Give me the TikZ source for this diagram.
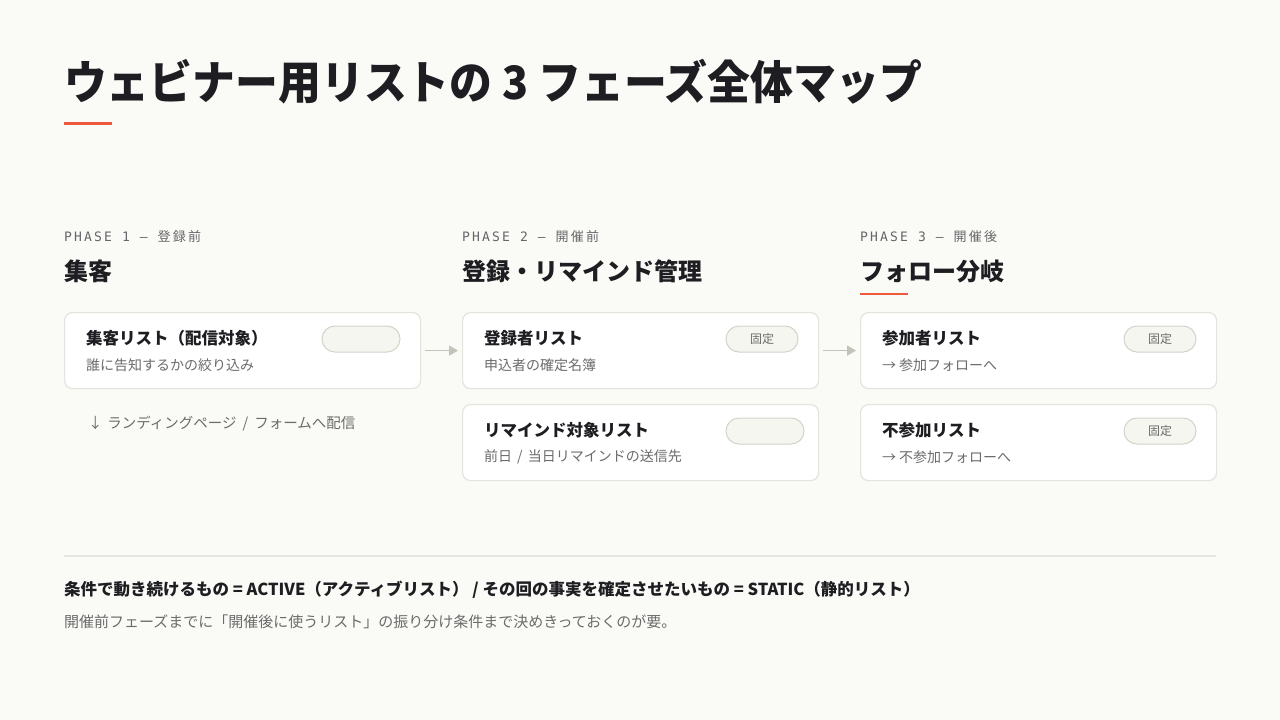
\documentclass[tikz,border=0pt]{standalone}
\usepackage{fontspec}
\usetikzlibrary{arrows.meta}
\setmainfont{Noto Sans CJK JP}
\newfontfamily\titlefont[UprightFont=* Black]{Noto Sans CJK JP}
\newfontfamily\phmono[LetterSpace=17]{DejaVu Sans Mono}
\newfontfamily\phcjk[LetterSpace=17]{Noto Sans CJK JP}
\definecolor{bg}{HTML}{FAFAF6}
\definecolor{ink}{HTML}{1D1D22}
\definecolor{subgray}{HTML}{6B6B6B}
\definecolor{phgray}{HTML}{66666A}
\definecolor{cardline}{HTML}{E4E4DE}
\definecolor{pillfill}{HTML}{F6F6F0}
\definecolor{pillline}{HTML}{D3D3CA}
\definecolor{accent}{HTML}{F05A3C}
\definecolor{arrowc}{HTML}{C3C3BA}
\definecolor{sepc}{HTML}{E5E5DF}
\begin{document}
\begin{tikzpicture}[x=1pt,y=-1pt,
  txt/.style={anchor=west,inner sep=0pt,outer sep=0pt},
  phaselabel/.style={txt,text=phgray,font=\fontsize{13}{13}\selectfont},
  phasehead/.style={txt,text=ink,font=\fontsize{24}{24}\selectfont\bfseries},
  card/.style={draw=cardline,line width=1.2pt,fill=white,rounded corners=8pt,
    minimum width=356pt,minimum height=76pt,inner sep=0pt,anchor=north west},
  cardtitle/.style={txt,text=ink,font=\fontsize{16.5}{16.5}\selectfont\bfseries},
  cardsub/.style={txt,text=subgray,font=\fontsize{14}{14}\selectfont},
  pill/.style={draw=pillline,line width=1pt,fill=pillfill,rounded corners=13pt,
    minimum height=26pt,inner sep=0pt,text=subgray,font=\fontsize{12}{12}\selectfont},
  flow/.style={draw=arrowc,line width=1.6pt,-{Triangle[length=9pt,width=10pt]},
    shorten <=4pt,shorten >=4pt},
  uline/.style={fill=accent,draw=none}
]
\useasboundingbox (0,0) rectangle (1280,720);
\fill[bg] (0,0) rectangle (1280,720);

% title
\node[txt,text=ink] (title) at (64,82)
  {\scalebox{0.932}[1]{\titlefont\fontsize{46}{46}\selectfont ウェビナー用リストの 3 フェーズ全体マップ}};
\fill[uline] (64,121.5) rectangle (112,124.5);

% phase labels
\node[phaselabel] (p1l) at (64,237) {\phmono PHASE 1 — \phcjk 登録前};
\node[phaselabel] (p2l) at (462,237) {\phmono PHASE 2 — \phcjk 開催前};
\node[phaselabel] (p3l) at (860,237) {\phmono PHASE 3 — \phcjk 開催後};

\node[phasehead] (p1h) at (64,271) {集客};
\node[phasehead] (p2h) at (462,271) {登録・リマインド管理};
\node[phasehead] (p3h) at (860,271) {フォロー分岐};
\fill[uline] (860,293) rectangle (908,295);

% cards
\node[card] (c1) at (64,312) {};
\node[card] (c2) at (462,312) {};
\node[card] (c3) at (462,404) {};
\node[card] (c4) at (860,312) {};
\node[card] (c5) at (860,404) {};

\node[cardtitle] (c1t) at (86,338) {集客リスト（配信対象）};
\node[cardsub] (c1s) at (86,365) {誰に告知するかの絞り込み};
\node[pill,minimum width=78pt] (c1p) at (361,339) {};

\node[cardtitle] (c2t) at (484,338) {登録者リスト};
\node[cardsub] (c2s) at (484,365) {申込者の確定名簿};
\node[pill,minimum width=72pt] (c2p) at (762,339) {固定};

\node[cardtitle] (c3t) at (484,430) {リマインド対象リスト};
\node[cardsub] (c3s) at (484,457) {前日\hspace{2pt} / \hspace{2pt}当日リマインドの送信先};
\node[pill,minimum width=78pt] (c3p) at (765,431) {};

\node[cardtitle] (c4t) at (882,338) {参加者リスト};
\node[cardsub] (c4s) at (882,365) {→ 参加フォローへ};
\node[pill,minimum width=72pt] (c4p) at (1160,339) {固定};

\node[cardtitle] (c5t) at (882,430) {不参加リスト};
\node[cardsub] (c5s) at (882,457) {→ 不参加フォローへ};
\node[pill,minimum width=72pt] (c5p) at (1160,431) {固定};

% arrows
\draw[flow] (c1.east) -- (c2.west);
\draw[flow] (c2.east) -- (c4.west);

\node[txt,text=subgray,font=\fontsize{14.5}{14.5}\selectfont] (lp) at (88,424)
  {↓\hspace{5pt}ランディングページ\hspace{6pt}/\hspace{6pt}フォームへ配信};

% footer
\draw[sepc,line width=1.5pt] (64,556) -- (1216,556);
\node[txt,text=ink,font=\fontsize{16.5}{16.5}\selectfont\bfseries] (f1) at (64,590)
  {条件で動き続けるもの = ACTIVE（アクティブリスト） / その回の事実を確定させたいもの = STATIC（静的リスト）};
\node[txt,text=subgray,font=\fontsize{15}{15}\selectfont] (f2) at (64,622)
  {開催前フェーズまでに「開催後に使うリスト」の振り分け条件まで決めきっておくのが要。};
\end{tikzpicture}
\end{document}
